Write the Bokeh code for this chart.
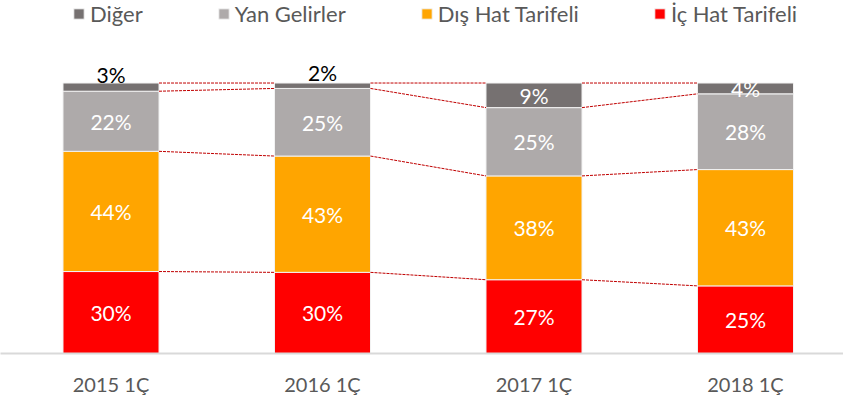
from bokeh.plotting import figure
from bokeh.models import ColumnDataSource, Legend, LegendItem, FixedTicker, Range1d
from bokeh.core.properties import value
from bokeh.embed import file_html
from bokeh.resources import INLINE

years = ["2015 1Ç", "2016 1Ç", "2017 1Ç", "2018 1Ç"]
ic_hat = [30, 30, 27, 25]
dis_hat = [44, 43, 38, 43]
yan_gelir = [22, 25, 25, 28]
diger = [3, 2, 9, 4]

series_names = ["İç Hat Tarifeli", "Dış Hat Tarifeli", "Yan Gelirler", "Diğer"]
series_vals = [ic_hat, dis_hat, yan_gelir, diger]
colors = ["#FF0000", "#FFA500", "#AEAAAA", "#767171"]
label_colors = [["white"] * 4, ["white"] * 4, ["white"] * 4, ["black", "black", "white", "white"]]
label_shift = [[0] * 4, [0] * 4, [0] * 4, [-13, -13, 0, 0]]

FONT = "Lato"
n = len(years)
xs = list(range(n))
totals = [sum(s[i] for s in series_vals) for i in range(n)]
bw = 0.454

p = figure(width=843, height=398, output_backend="svg", toolbar_location=None,
           x_range=Range1d(-0.5225, 3.4634), y_range=Range1d(0, 1.3051),
           min_border_left=0, min_border_right=0, min_border_top=0, min_border_bottom=0)
p.xgrid.visible = False
p.ygrid.visible = False
p.yaxis.visible = False
p.outline_line_color = None

bottoms = [0.0] * n
renderers = []
bounds = []
for k, (name, vals) in enumerate(zip(series_names, series_vals)):
    fr = [vals[i] / totals[i] for i in range(n)]
    tops = [bottoms[i] + fr[i] for i in range(n)]
    src = ColumnDataSource(dict(x=xs, bottom=bottoms, top=tops,
                                ymid=[(bottoms[i] + tops[i]) / 2 for i in range(n)],
                                lab=[f"{v}%" for v in vals],
                                col=label_colors[k], dy=label_shift[k]))
    r = p.vbar(x="x", width=bw, bottom="bottom", top="top", source=src,
               fill_color=colors[k], line_color="#F2F2F2", line_width=1)
    renderers.append(r)
    p.text(x="x", y="ymid", text="lab", source=src, text_align="center",
           text_baseline="middle", text_color="col", y_offset="dy",
           text_font=value(FONT), text_font_size="21px")
    bounds.append(tops)
    bottoms = tops

# dashed connector lines
x0, y0, x1, y1 = [], [], [], []
for tops in bounds:
    for i in range(n - 1):
        x0.append(xs[i] + bw / 2)
        x1.append(xs[i + 1] - bw / 2)
        y0.append(tops[i])
        y1.append(tops[i + 1])
p.segment(x0=x0, y0=y0, x1=x1, y1=y1, line_color="#C00000", line_width=1, line_dash="3 1")

p.xaxis.ticker = FixedTicker(ticks=xs)
p.xaxis.major_label_overrides = {i: years[i] for i in xs}
p.xaxis.major_tick_line_color = None
p.xaxis.minor_tick_line_color = None
p.xaxis.axis_line_color = "#D9D9D9"
p.xaxis.axis_line_width = 2
p.xaxis.major_label_text_font = FONT
p.xaxis.major_label_text_font_size = "20px"
p.xaxis.major_label_text_color = "#595959"
p.xaxis.major_label_standoff = 12

items = [LegendItem(label=series_names[k], renderers=[renderers[k]]) for k in [3, 2, 1, 0]]
legend = Legend(items=items, orientation="horizontal", location=(72, 326),
                margin=0, padding=0, spacing=74, glyph_width=13, glyph_height=13,
                label_standoff=5, label_height=26, label_text_font=FONT,
                label_text_font_size="22px", label_text_color="#595959",
                background_fill_alpha=0, border_line_color=None)
p.add_layout(legend)

open("out.html", "w").write(file_html(p, INLINE))
